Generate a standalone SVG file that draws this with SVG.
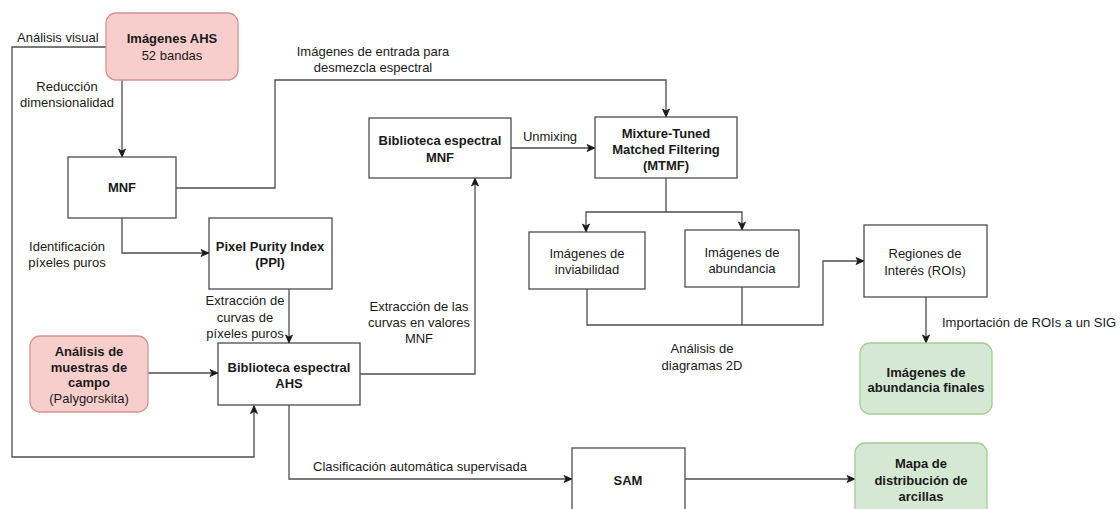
<svg xmlns="http://www.w3.org/2000/svg" width="1120" height="509" viewBox="0 0 1120 509">
<style>
text{font-family:"Liberation Sans",Arial,sans-serif;font-size:13px;fill:#1a1a1a;text-anchor:middle;dominant-baseline:central}
.b{font-weight:bold}
.l{text-anchor:start}
.box{fill:#ffffff;stroke:#4d4d4d;stroke-width:1.3}
.red{fill:#f8cecc;stroke:#d6928e;stroke-width:1.3}
.green{fill:#d5e8d4;stroke:#a3cc93;stroke-width:1.3}
.c{fill:none;stroke:#4d4d4d;stroke-width:1.3}
.a{marker-end:url(#arr)}
</style>
<defs>
<marker id="arr" markerUnits="userSpaceOnUse" markerWidth="10" markerHeight="10" viewBox="0 0 10 10" refX="9" refY="5" orient="auto">
<path d="M1,1.5 L9,5 L1,8.5 L3,5 z" fill="#1a1a1a" stroke="#1a1a1a" stroke-width="0.8"/>
</marker>
</defs>
<rect width="1120" height="509" fill="#ffffff"/>
<g id="connectors">
<path class="c" d="M106,47 H12 V457 H254 V405.5" marker-end="url(#arr)"/>
<path class="c a" d="M122,80 V157"/>
<path class="c a" d="M176,188 H275 V80 H666 V117"/>
<path class="c a" d="M511,148 H595"/>
<path class="c a" d="M122,218 V253 H209"/>
<path class="c a" d="M289,289 V343"/>
<path class="c a" d="M148,373 H218"/>
<path class="c a" d="M360,374 H475 V178"/>
<path class="c a" d="M289,405 V479 H572"/>
<path class="c a" d="M685,479 H855"/>
<path class="c" d="M666,178 V212"/>
<path class="c a" d="M666,212 H586 V232"/>
<path class="c a" d="M666,212 H742 V230"/>
<path class="c" d="M587,289 V325 H742"/>
<path class="c" d="M742,287 V325"/>
<path class="c a" d="M742,325 H823 V261 H864"/>
<path class="c a" d="M926,297 V343"/>
</g>
<g id="edge-labels">
<text class="l" x="17" y="37">Análisis visual</text>
<text x="67" y="86">Reducción</text>
<text x="67" y="102">dimensionalidad</text>
<text x="373" y="51">Imágenes de entrada para</text>
<text x="373" y="67">desmezcla espectral</text>
<text x="550" y="136">Unmixing</text>
<text x="67" y="246">Identificación</text>
<text x="67" y="262">píxeles puros</text>
<text x="245" y="300">Extracción de</text>
<text x="245" y="317">curvas de</text>
<text x="245" y="333">píxeles puros</text>
<text x="419" y="306">Extracción de las</text>
<text x="419" y="322">curvas en valores</text>
<text x="419" y="338">MNF</text>
<text x="702" y="348">Análisis de</text>
<text x="702" y="365">diagramas 2D</text>
<text class="l" x="942" y="322">Importación de ROIs a un SIG</text>
<text x="420" y="466">Clasificación automática supervisada</text>
</g>
<g id="n-ahs">
<rect class="red" x="106" y="13" width="132" height="67" rx="10"/>
<text class="b" x="172" y="38">Imágenes AHS</text>
<text x="172" y="55">52 bandas</text>
</g>
<g id="n-mnf">
<rect class="box" x="68" y="157" width="108" height="61"/>
<text class="b" x="122" y="187">MNF</text>
</g>
<g id="n-bib-mnf">
<rect class="box" x="369" y="118" width="142" height="60"/>
<text class="b" x="440" y="140">Biblioteca espectral</text>
<text class="b" x="440" y="157">MNF</text>
</g>
<g id="n-mtmf">
<rect class="box" x="595" y="117" width="142" height="61"/>
<text class="b" x="666" y="133">Mixture-Tuned</text>
<text class="b" x="666" y="149">Matched Filtering</text>
<text class="b" x="666" y="165">(MTMF)</text>
</g>
<g id="n-ppi">
<rect class="box" x="209" y="218" width="123" height="71"/>
<text class="b" x="270" y="246">Pixel Purity Index</text>
<text class="b" x="270" y="262">(PPI)</text>
</g>
<g id="n-inviab">
<rect class="box" x="529" y="232" width="116" height="57"/>
<text x="587" y="253">Imágenes de</text>
<text x="587" y="269">inviabilidad</text>
</g>
<g id="n-abund">
<rect class="box" x="685" y="230" width="114" height="57"/>
<text x="742" y="252">Imágenes de</text>
<text x="742" y="268">abundancia</text>
</g>
<g id="n-rois">
<rect class="box" x="864" y="225" width="123" height="72"/>
<text x="925" y="253">Regiones de</text>
<text x="925" y="270">Interés (ROIs)</text>
</g>
<g id="n-finales">
<rect class="green" x="860" y="343" width="132" height="71" rx="10"/>
<text class="b" x="926" y="372">Imágenes de</text>
<text class="b" x="926" y="387">abundancia finales</text>
</g>
<g id="n-campo">
<rect class="red" x="30" y="336" width="118" height="76" rx="10"/>
<text class="b" x="89" y="351">Análisis de</text>
<text class="b" x="89" y="367">muestras de</text>
<text class="b" x="89" y="382">campo</text>
<text x="89" y="398">(Palygorskita)</text>
</g>
<g id="n-bib-ahs">
<rect class="box" x="218" y="343" width="142" height="62"/>
<text class="b" x="289" y="367">Biblioteca espectral</text>
<text class="b" x="289" y="383">AHS</text>
</g>
<g id="n-sam">
<rect class="box" x="572" y="448" width="113" height="70"/>
<text class="b" x="628" y="480">SAM</text>
</g>
<g id="n-mapa">
<rect class="green" x="855" y="443" width="132" height="75" rx="10"/>
<text class="b" x="921" y="463">Mapa de</text>
<text class="b" x="921" y="480">distribución de</text>
<text class="b" x="921" y="496">arcillas</text>
</g>
</svg>
